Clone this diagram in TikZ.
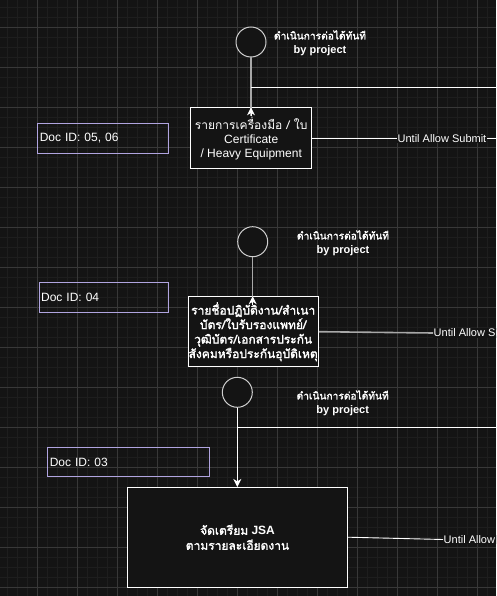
\documentclass[tikz,border=0pt]{standalone}
\usepackage{fontspec}
\setmainfont{Liberation Sans}
\newfontfamily\thai[Script=Thai, AutoFakeBold=2]{Loma}
\usetikzlibrary{arrows.meta}
\definecolor{bg}{HTML}{141414}
\definecolor{minorgrid}{HTML}{1E1E1E}
\definecolor{majorgrid}{HTML}{383838}
\definecolor{lav}{HTML}{B0A4E0}
\definecolor{circedge}{HTML}{CFCFCF}
\definecolor{greyline}{HTML}{A8A8A8}
\tikzset{
  base/.style={font=\fontsize{12}{14}\selectfont, text=white},
  procbox/.style={base, draw=white, fill=bg, line width=0.9pt, inner sep=0pt, align=center},
  docbox/.style={base, draw=lav, line width=0.9pt, inner xsep=2pt, inner ysep=0pt, align=left, anchor=west},
  startcirc/.style={circle, draw=circedge, fill=bg, line width=1pt, minimum size=30pt, inner sep=0pt},
  note/.style={base, font=\fontsize{11}{14}\selectfont\bfseries, align=center},
  edgelabel/.style={base, font=\fontsize{11}{13}\selectfont, fill=bg, inner sep=0.5pt},
  wline/.style={draw=white, line width=0.9pt},
  gline/.style={draw=greyline, line width=1.4pt},
  tip/.style={-{Stealth[length=8pt, width=8pt, inset=2.5pt]}}
}
\newcommand\notethai[1]{{\thai\fontsize{10.2}{14}\selectfont #1}}
\begin{document}
\begin{tikzpicture}[x=1pt, y=-1pt]
\useasboundingbox (0,0) rectangle (496,596);
\begin{scope}
\clip (0,0) rectangle (496,596);
\fill[bg] (0,0) rectangle (496,596);
\foreach \x in {7,17,...,497} \draw[minorgrid, line width=0.6pt] (\x,0) -- (\x,596);
\foreach \y in {7,17,...,597} \draw[minorgrid, line width=0.6pt] (0,\y) -- (496,\y);
\foreach \x in {37,77,...,497} \draw[majorgrid, line width=0.6pt] (\x,0) -- (\x,596);
\foreach \y in {27,67,...,597} \draw[majorgrid, line width=0.6pt] (0,\y) -- (496,\y);

% ---- block 1
\node[startcirc] (c1) at (251,42) {};
\node[note] (t1) at (320,43) {\notethai{ดำเนินการต่อได้ทันที}\\by project};
\node[procbox, minimum width=121pt, minimum height=61pt] (b1) at (251.2,138.3)
  {{\thai รายการเครื่องมือ / ใบ}\\Certificate\\/ Heavy Equipment};
\node[docbox, text width=126.7pt, minimum height=30pt] (d1) at (37.3,138.3) {Doc ID: 05, 06};
\coordinate (j1) at (251,87);
\coordinate (e1) at (497,87);
\coordinate (a1) at ([yshift=-9pt]c1.south |- b1.north);
\draw[gline] (c1.south) -- (a1);
\draw[wline, tip] (a1) -- (c1.south |- b1.north);
\draw[wline] (j1) -- (e1);
\node[edgelabel] (l1) at (442,138.3) {Until Allow Submit};
\coordinate (r1) at (497,138.3);
\draw[wline] (b1.east) -- (l1.west);
\draw[wline] (l1.east) -- (r1);

% ---- block 2
\node[startcirc] (c2) at (252.7,241.7) {};
\node[note] (t2) at (343,243) {\notethai{ดำเนินการต่อได้ทันที}\\by project};
\node[procbox, minimum width=130.3pt, minimum height=70pt, font=\fontsize{12}{14.5}\selectfont\bfseries] (b2) at (253.2,331.7)
  {\thai รายชื่อปฏิบัติงาน/สำเนา\\\thai บัตร/ใบรับรองแพทย์/\\\thai วุฒิบัตร/เอกสารประกัน\\\thai สังคมหรือประกันอุบัติเหตุ};
\node[docbox, text width=125.3pt, minimum height=30pt] (d2) at (38.7,297.3) {Doc ID: 04};
\coordinate (a2) at ([yshift=-9pt]c2.south |- b2.north);
\draw[gline] (c2.south) -- (a2);
\draw[wline, tip] (a2) -- (c2.south |- b2.north);
\node[edgelabel, anchor=west] (l2) at (433,333) {Until Allow Submit};
\draw[gline, line width=1.6pt] (b2.east) -- (l2.west);

% ---- block 3
\node[startcirc] (c3) at (237.3,392.3) {};
\node[note] (t3) at (342.7,403) {\notethai{ดำเนินการต่อได้ทันที}\\by project};
\node[procbox, minimum width=220.4pt, minimum height=99.7pt, font=\fontsize{12}{15}\selectfont\bfseries] (b3) at (237.5,537.2)
  {{\thai จัดเตรียม} JSA\\{\thai ตามรายละเอียดงาน}};
\node[docbox, text width=158pt, minimum height=29.4pt] (d3) at (47.3,462) {Doc ID: 03};
\coordinate (j3) at (237.3,427.5);
\coordinate (e3) at (497,427.5);
\draw[wline, tip] (c3.south) -- (c3.south |- b3.north);
\draw[wline] (j3) -- (e3);
\node[edgelabel, anchor=west] (l3) at (443,539.5) {Until Allow Submit};
\draw[wline] (b3.east) -- (l3.west);
\end{scope}
\end{tikzpicture}
\end{document}
